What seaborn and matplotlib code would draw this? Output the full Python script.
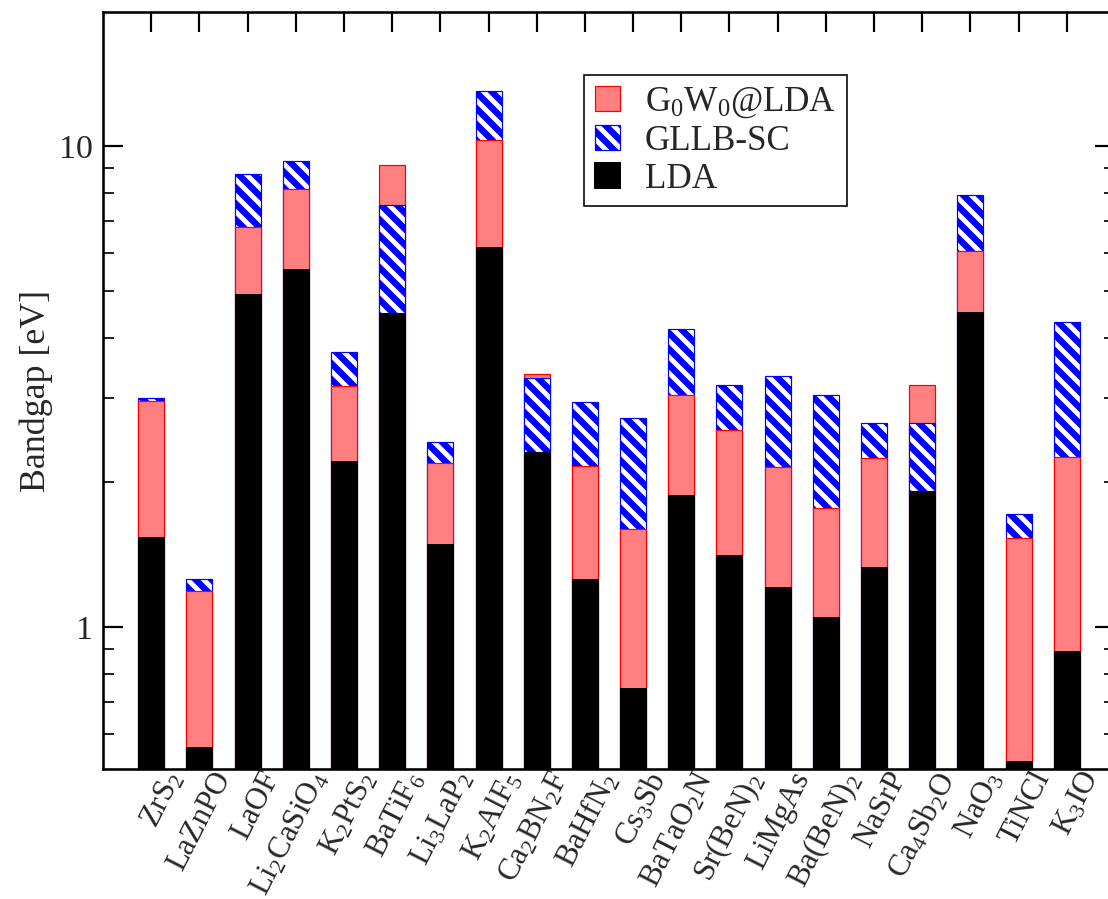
import numpy as np
import pandas as pd
import matplotlib
matplotlib.use("Agg")
import matplotlib.pyplot as plt
import seaborn as sns
from matplotlib.patches import Patch
from matplotlib.transforms import ScaledTranslation
from matplotlib.ticker import LogLocator, FuncFormatter, NullFormatter

# Band gaps (eV) for each compound, three levels of theory
compounds = ["ZrS$_2$", "LaZnPO", "LaOF", "Li$_2$CaSiO$_4$", "K$_2$PtS$_2$",
             "BaTiF$_6$", "Li$_3$LaP$_2$", "K$_2$AlF$_5$", "Ca$_2$BN$_2$F",
             "BaHfN$_2$", "Cs$_3$Sb", "BaTaO$_2$N", "Sr(BeN)$_2$", "LiMgAs",
             "Ba(BeN)$_2$", "NaSrP", "Ca$_4$Sb$_2$O", "NaO$_3$", "TiNCl", "K$_3$IO"]
lda = [1.54, 0.564, 4.92, 5.54, 2.21, 4.49, 1.49, 6.18, 2.31, 1.26,
       0.746, 1.88, 1.41, 1.21, 1.05, 1.335, 1.92, 4.51, 0.527, 0.892]
g0w0 = [2.95, 1.19, 6.80, 8.15, 3.17, 9.12, 2.19, 10.3, 3.36, 2.16,
        1.60, 3.04, 2.57, 2.15, 1.77, 2.25, 3.19, 6.04, 1.53, 2.26]
gllb = [2.99, 1.26, 8.75, 9.32, 3.73, 7.55, 2.43, 13.0, 3.29, 2.94,
        2.72, 4.16, 3.18, 3.33, 3.04, 2.66, 2.66, 7.91, 1.72, 4.30]

df = pd.DataFrame({"compound": compounds, "G0W0": g0w0, "GLLB": gllb, "LDA": lda})

sns.set_theme(style="ticks")
plt.rcParams["font.family"] = ["Liberation Serif", "DejaVu Serif"]
plt.rcParams["mathtext.fontset"] = "custom"
plt.rcParams["mathtext.rm"] = "Liberation Serif"
plt.rcParams["mathtext.it"] = "Liberation Serif:italic"
plt.rcParams["mathtext.bf"] = "Liberation Serif:bold"
plt.rcParams["mathtext.default"] = "regular"
plt.rcParams["hatch.linewidth"] = 3.2

DPI = 144
W, H = 1108, 899
fig = plt.figure(figsize=(W / DPI, H / DPI), dpi=DPI)
ax = fig.add_axes([103 / W, 1 - 769 / H, (1115 - 103) / W, (769 - 12) / H])
ax.set_yscale("log")

RED_FILL = "#ff8080"
STRIPES = "\\\\\\"
styles = {
    "G0W0": dict(color=RED_FILL, edgecolor="red", linewidth=0.6),
    "GLLB": dict(color="white", edgecolor="blue", linewidth=0.6, hatch=STRIPES),
    "LDA": dict(color="black", edgecolor="black", linewidth=0.5),
}

# draw each method; within every compound the taller bar sits underneath
values = df[["G0W0", "GLLB", "LDA"]].to_numpy()
for j, col in enumerate(["G0W0", "GLLB", "LDA"]):
    n0 = len(ax.patches)
    sns.barplot(data=df, x="compound", y=col, ax=ax, width=0.54,
                saturation=1, errorbar=None, **styles[col])
    for i, p in enumerate(ax.patches[n0:]):
        rank = np.argsort(-values[i]).tolist().index(j)
        p.set_zorder(1.0 + 0.1 * rank)

ax.set_xlim(-1, len(compounds))
ax.set_ylim(0.507, 19.0)

ax.yaxis.set_major_locator(LogLocator(base=10))
ax.yaxis.set_minor_locator(LogLocator(base=10, subs=np.arange(2, 10)))
ax.yaxis.set_major_formatter(FuncFormatter(lambda v, p: f"{v:g}"))
ax.yaxis.set_minor_formatter(NullFormatter())

ax.tick_params(axis="both", which="major", direction="in", length=10, width=1.1,
               top=True, right=True, color="black")
ax.tick_params(axis="y", which="minor", direction="in", length=5.5, width=1.0,
               right=True, left=True)
ax.tick_params(axis="y", which="major", labelsize=17, pad=5)
ax.tick_params(axis="x", which="major", labelsize=15.5, pad=3)
for s in ax.spines.values():
    s.set_linewidth(1.3)
    s.set_color("black")

ax.set_xticks(range(len(compounds)))
ax.set_xticklabels(compounds, rotation=63, ha="right", va="top",
                   rotation_mode="anchor")
shift = ScaledTranslation(12 / DPI, 8 / DPI, fig.dpi_scale_trans)
for lab in ax.get_xticklabels():
    lab.set_transform(lab.get_transform() + shift)
ax.set_xlabel("")
ax.set_ylabel("Bandgap [eV]", fontsize=18, labelpad=3)

handles = [
    Patch(facecolor=RED_FILL, edgecolor="red", linewidth=0.6, label="G$_0$W$_0$@LDA"),
    Patch(facecolor="white", edgecolor="blue", linewidth=0.6, hatch=STRIPES, label="GLLB-SC"),
    Patch(facecolor="black", edgecolor="black", label="LDA"),
]
leg = ax.legend(handles=handles, loc="upper left",
                bbox_to_anchor=(584 / W, 1 - 75 / H), bbox_transform=fig.transFigure,
                fontsize=17.5, frameon=True, fancybox=False, framealpha=1,
                edgecolor="black", handlelength=0.74, handleheight=0.74,
                handletextpad=0.7, labelspacing=0.14, borderpad=0.3,
                borderaxespad=0)
leg.get_frame().set_linewidth(0.8)

fig.savefig("out.png", dpi=DPI)
